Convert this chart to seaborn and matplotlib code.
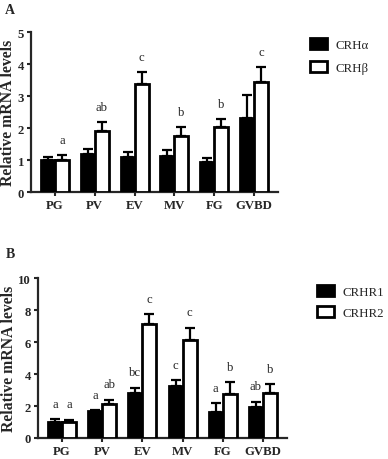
import numpy as np
import pandas as pd
import matplotlib
matplotlib.use("Agg")
import matplotlib.pyplot as plt
import seaborn as sns
from matplotlib.patches import Patch

# stages on the x axis
stages = ["PG", "PV", "EV", "MV", "FG", "GVBD"]

# panel A: CRH alpha / beta
crh_a = [1.00, 1.20, 1.08, 1.12, 0.93, 2.30]
crh_a_err = [0.10, 0.13, 0.17, 0.18, 0.12, 0.72]
crh_b = [1.00, 1.92, 3.38, 1.75, 2.02, 3.45]
crh_b_err = [0.15, 0.26, 0.37, 0.27, 0.26, 0.45]
letters_a = ["a", "ab", "c", "b", "b", "c"]

# panel B: CRHR1 / CRHR2
crhr1 = [1.00, 1.68, 2.80, 3.25, 1.64, 1.94]
crhr1_err = [0.17, 0.07, 0.35, 0.37, 0.53, 0.33]
crhr2 = [1.00, 2.15, 7.10, 6.10, 2.78, 2.84]
crhr2_err = [0.15, 0.25, 0.65, 0.80, 0.69, 0.53]
letters_r1 = ["a", "a", "bc", "c", "a", "ab"]
letters_r2 = ["a", "ab", "c", "c", "b", "b"]

sns.set_style("ticks")
plt.rcParams["font.family"] = ["Liberation Serif", "DejaVu Serif"]

fig = plt.figure(figsize=(3.88, 4.60), dpi=100)
axA = fig.add_axes([31 / 388, 1 - 193 / 460, (278 - 31) / 388, (193 - 33) / 460])
axB = fig.add_axes([38 / 388, 1 - 439 / 460, (287 - 38) / 388, (439 - 279) / 460])


def draw_panel(ax, names, vals1, err1, vals2, err2, ymax, ystep):
    df = pd.DataFrame({
        "stage": stages * 2,
        "value": list(vals1) + list(vals2),
        "gene": [names[0]] * len(stages) + [names[1]] * len(stages),
    })
    sns.barplot(data=df, x="stage", y="value", hue="gene", palette=["black", "white"],
                edgecolor="black", linewidth=2, width=0.7, ax=ax, legend=False,
                errorbar=None, zorder=3)
    errs = list(err1) + list(err2)
    bars = [p for p in ax.patches][:len(errs)]
    for p, e in zip(bars, errs):
        x = p.get_x() + p.get_width() / 2
        h = p.get_height()
        ax.errorbar(x, h, yerr=[[0], [e]], fmt="none", ecolor="black",
                    elinewidth=1.6, capsize=3.5, capthick=1.6, zorder=2)
    ax.set_xlim(-0.6, len(stages) - 0.4)
    ax.set_ylim(0, ymax)
    ax.set_yticks(np.arange(0, ymax + 0.01, ystep))
    ax.set_xlabel("")
    ax.set_ylabel("Relative mRNA levels", fontsize=11.3, fontweight="bold", labelpad=1)
    for sp in ["left", "bottom"]:
        ax.spines[sp].set_linewidth(1.6)
    sns.despine(ax=ax)
    ax.tick_params(axis="both", width=1.5, length=3, labelsize=9.2, pad=2)
    for lab in ax.get_xticklabels() + ax.get_yticklabels():
        lab.set_fontweight("bold")
    return bars


def label(ax, x, top, text):
    ax.annotate(text, (x, top), xytext=(0, 11), textcoords="offset points",
                ha="center", va="center", fontsize=9.2)


barsA = draw_panel(axA, ["CRHα", "CRHβ"], crh_a, crh_a_err, crh_b, crh_b_err, 5, 1)
n = len(stages)
for i in range(n):
    p = barsA[n + i]
    label(axA, p.get_x() + p.get_width() / 2, crh_b[i] + crh_b_err[i], letters_a[i])

barsB = draw_panel(axB, ["CRHR1", "CRHR2"], crhr1, crhr1_err, crhr2, crhr2_err, 10, 2)
for i in range(n):
    p = barsB[i]
    label(axB, p.get_x() + p.get_width() / 2, crhr1[i] + crhr1_err[i], letters_r1[i])
    p = barsB[n + i]
    label(axB, p.get_x() + p.get_width() / 2, crhr2[i] + crhr2_err[i], letters_r2[i])


def legend(names, x, y, spacing):
    handles = [Patch(facecolor="black", edgecolor="black", linewidth=2),
               Patch(facecolor="white", edgecolor="black", linewidth=2)]
    fig.legend(handles, names, loc="upper left", bbox_to_anchor=(x, y),
               frameon=False, fontsize=9.3, handlelength=1.35, handleheight=0.9,
               labelspacing=spacing, handletextpad=0.6, borderaxespad=0, borderpad=0)


legend(["CRHα", "CRHβ"], 310 / 388, 1 - 39 / 460, 0.8)
legend(["CRHR1", "CRHR2"], 317 / 388, 1 - 286 / 460, 0.65)

fig.text(10 / 388, 1 - 10 / 460, "A", fontsize=10, fontweight="bold", ha="center", va="center")
fig.text(10 / 388, 1 - 255 / 460, "B", fontsize=10, fontweight="bold", ha="center", va="center")

fig.savefig("out.png", dpi=100)
